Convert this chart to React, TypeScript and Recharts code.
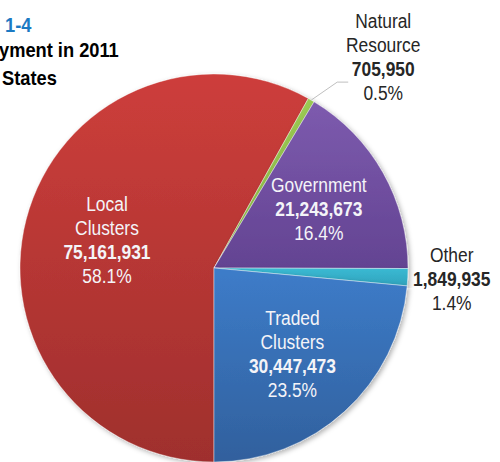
import React from "react";
import { Cell, Pie, PieChart } from "recharts";

const sectors = ["Local Clusters", "Natural Resource", "Government", "Other", "Traded Clusters"];
const employment = [75161931, 705950, 21243673, 1849935, 30447473];
const labelLines = [
  ["Local", "Clusters"],
  ["Natural", "Resource"],
  ["Government"],
  ["Other"],
  ["Traded", "Clusters"],
];
const titleLines = ["1-4", "yment in 2011", "States"];

const data = sectors.map((name, i) => ({ name, value: employment[i] }));

// top / bottom colours of each slice's vertical gradient
const sliceColors = [
  ["#cd3e3b", "#9f2f2d"],
  ["#9bc953", "#86b443"],
  ["#7d5bae", "#634392"],
  ["#3bbad3", "#2fa3bd"],
  ["#3d7cc9", "#31609d"],
];

const FONT = "'Liberation Sans', Arial, sans-serif";
const NARROW = 0.87; // fake a condensed face
const RADIAN = Math.PI / 180;
const LINE = 24;

function polar(cx: number, cy: number, r: number, angle: number) {
  return { x: cx + r * Math.cos(-angle * RADIAN), y: cy + r * Math.sin(-angle * RADIAN) };
}

function NarrowText({ x, y, children, bold, fill, size = 20, anchor = "middle" }: any) {
  return (
    <text
      transform={`translate(${x},${y}) scale(${NARROW},1)`}
      x={0}
      y={0}
      textAnchor={anchor}
      dominantBaseline="central"
      fill={fill}
      fontFamily={FONT}
      fontSize={size}
      fontWeight={bold ? 700 : 400}
    >
      {children}
    </text>
  );
}

function renderLabel(props: any) {
  const { cx, cy, midAngle, outerRadius, index, value, percent } = props;
  const lines = [
    ...labelLines[index].map((t) => ({ t, bold: false })),
    { t: value.toLocaleString("en-US"), bold: true },
    { t: `${(percent * 100).toFixed(1)}%`, bold: false },
  ];

  if (index === 1) {
    // thin slice: text above with a leader line
    const edge = polar(cx, cy, outerRadius, midAngle);
    const elbow = { x: edge.x + 26, y: edge.y - 18 };
    const end = { x: elbow.x + 11, y: elbow.y };
    const tx = end.x + 35;
    const top = elbow.y - 61;
    return (
      <g key="lbl-natural">
        <polyline
          points={`${edge.x},${edge.y} ${elbow.x},${elbow.y} ${end.x},${end.y}`}
          fill="none"
          stroke="#bfbfbf"
          strokeWidth={1}
        />
        {lines.map((l, i) => (
          <NarrowText key={i} x={tx} y={top + i * LINE} bold={l.bold} fill="#262626">
            {l.t}
          </NarrowText>
        ))}
      </g>
    );
  }

  const outside = index === 3;
  const r = outside ? outerRadius + 44 : outerRadius * [0.57, 0, 0.62, 0, 0.6][index];
  const p = polar(cx, cy, r, midAngle);
  const y0 = p.y - ((lines.length - 1) * LINE) / 2;
  return (
    <g key={`lbl-${index}`}>
      {lines.map((l, i) => (
        <NarrowText
          key={i}
          x={p.x}
          y={y0 + i * LINE}
          bold={l.bold}
          fill={outside ? "#262626" : "#f4f4f8"}
        >
          {l.t}
        </NarrowText>
      ))}
    </g>
  );
}

export default function App() {
  return (
    <div style={{ position: "absolute", left: 0, top: 0, width: 500, height: 462, background: "#fff" }}>
      <PieChart
        width={500}
        height={462}
        margin={{ top: 0, right: 0, bottom: 0, left: 0 }}
        style={{ position: "absolute", left: 0, top: 0 }}
      >
        <defs>
          {sliceColors.map(([a, b], i) => (
            <linearGradient key={i} id={`slice-${i}`} x1="0" y1="0" x2="0" y2="1">
              <stop offset="0%" stopColor={a} />
              <stop offset="100%" stopColor={b} />
            </linearGradient>
          ))}
          <filter id="pie-shadow" x="-10%" y="-10%" width="120%" height="120%">
            <feDropShadow dx="2" dy="2" stdDeviation="2.5" floodColor="#000" floodOpacity="0.3" />
          </filter>
        </defs>
        <Pie
          data={data}
          dataKey="value"
          nameKey="name"
          cx={214}
          cy={268}
          outerRadius={194}
          startAngle={-90}
          endAngle={-450}
          stroke="#ffffff"
          strokeWidth={0.4}
          label={renderLabel}
          labelLine={false}
          isAnimationActive={false}
          style={{ filter: "url(#pie-shadow)" }}
        >
          {data.map((entry, i) => (
            <Cell key={entry.name} fill={`url(#slice-${i})`} />
          ))}
        </Pie>
      </PieChart>
      <svg width={500} height={100} style={{ position: "absolute", left: 0, top: 0 }}>
        <text
          transform={`translate(5,32) scale(${NARROW},1)`}
          fontFamily={FONT}
          fontSize={21}
          fontWeight={700}
          fill="#1c7ac3"
        >
          {titleLines[0]}
        </text>
        <text
          transform={`translate(-1,57) scale(${NARROW},1)`}
          fontFamily={FONT}
          fontSize={21}
          fontWeight={700}
          fill="#000"
        >
          {titleLines[1]}
        </text>
        <text
          transform={`translate(2,85) scale(${NARROW},1)`}
          fontFamily={FONT}
          fontSize={21}
          fontWeight={700}
          fill="#000"
        >
          {titleLines[2]}
        </text>
      </svg>
    </div>
  );
}
